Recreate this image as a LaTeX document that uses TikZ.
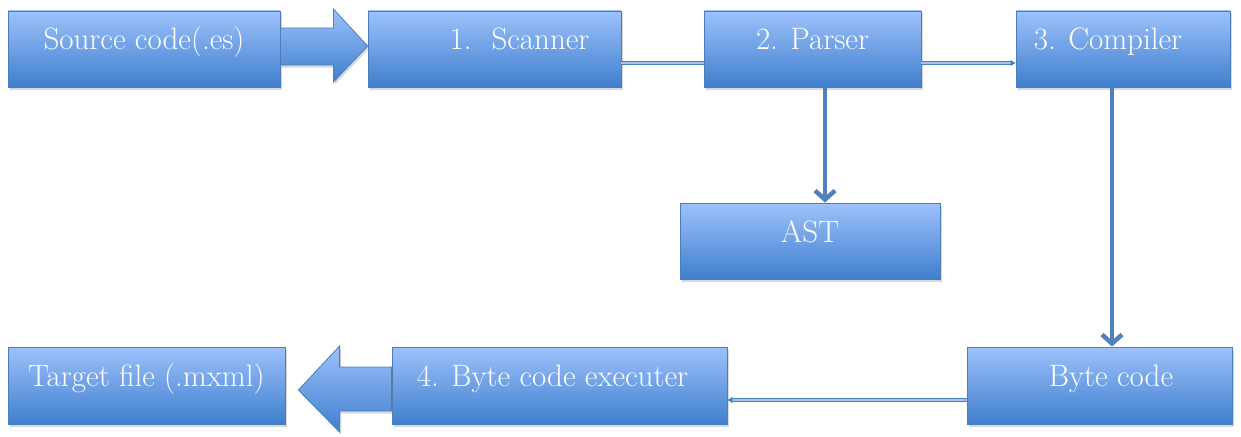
\documentclass[tikz,border=0pt]{standalone}
\usetikzlibrary{arrows.meta,shadows}
\definecolor{boxtop}{HTML}{9DC1FB}
\definecolor{boxbot}{HTML}{3F7FCE}
\definecolor{boxline}{HTML}{4A7EBB}
\definecolor{linecol}{HTML}{4F81BD}
\definecolor{linemid}{HTML}{A9C4EC}
\begin{document}
\begin{tikzpicture}[x=1pt,y=-1pt,
    blk/.style={draw=boxline,line width=0.8pt,top color=boxtop,bottom color=boxbot,
        minimum height=76pt,inner sep=0pt,text=white,font=\fontsize{31}{35}\selectfont,
        text height=21pt,text depth=19pt,
        drop shadow={shadow xshift=1.5pt,shadow yshift=-2.5pt,opacity=.3}},
    bigarrow/.style={draw=boxline,line width=0.8pt,top color=boxtop,bottom color=boxbot,
        drop shadow={shadow xshift=1.5pt,shadow yshift=-2.5pt,opacity=.3}},
    thin/.style={draw=boxline,line width=1.1pt,double=linemid,double distance=1.3pt},
    thick/.style={draw=linecol,line width=4.5pt,-{Straight Barb[length=9pt,width=20pt]}}]
    \useasboundingbox (0,0) rectangle (1241,436);
    \node[blk,minimum width=272pt] (src) at (144,49) {Source code(.es)};
    \node[blk,minimum width=253pt] (scan) at (494.5,49) {\hspace*{50pt}1.\hspace{20pt}Scanner};
    \node[blk,minimum width=217pt] (parse) at (812.5,49) {2. Parser};
    \node[blk,minimum width=214pt] (comp) at (1123,49) {3. Compiler\hspace*{30pt}};
    \node[blk,minimum width=260pt] (ast) at (810,241) {AST};
    \node[blk,minimum width=265pt,minimum height=77pt] (byte) at (1099.5,385.5) {\hspace*{23pt}Byte code};
    \node[blk,minimum width=335pt,minimum height=77pt] (exec) at (559.5,385.5) {4. Byte code executer\hspace*{14pt}};
    \node[blk,minimum width=277pt,minimum height=77pt] (tgt) at (146.5,385.5) {Target file (.mxml)};
    \path[bigarrow] ([yshift=21pt]src.east) -- ([xshift=53pt,yshift=21pt]src.east)
        -- ([xshift=53pt,yshift=40pt]src.east) -- ([yshift=3pt]scan.west)
        -- ([xshift=53pt,yshift=-33pt]src.east) -- ([xshift=53pt,yshift=-16pt]src.east)
        -- ([yshift=-16pt]src.east) -- cycle;
    \path[bigarrow] ([yshift=18.5pt]exec.west) -- ([xshift=-52pt,yshift=18.5pt]exec.west)
        -- ([xshift=-52pt,yshift=39.5pt]exec.west) -- ([xshift=13pt,yshift=-4.5pt]tgt.east)
        -- ([xshift=-52pt,yshift=-46.5pt]exec.west) -- ([xshift=-52pt,yshift=-25.5pt]exec.west)
        -- ([yshift=-25.5pt]exec.west) -- cycle;
    \draw[thin] ([yshift=-14pt]scan.east) -- ([yshift=-14pt]parse.west);
    \draw[thin,-{Latex[length=5pt,width=7pt]}] ([yshift=-14pt]parse.east) -- ([yshift=-14pt]comp.west);
    \draw[thin,-{Latex[length=5pt,width=7pt]}] ([yshift=-14.5pt]byte.west) -- ([yshift=-14.5pt]exec.east);
    \draw[thick] ([xshift=12.5pt]parse.south) -- ([xshift=15pt]ast.north);
    \draw[thick] ([xshift=-11pt]comp.south) -- ([xshift=12.5pt]byte.north);
\end{tikzpicture}
\end{document}
